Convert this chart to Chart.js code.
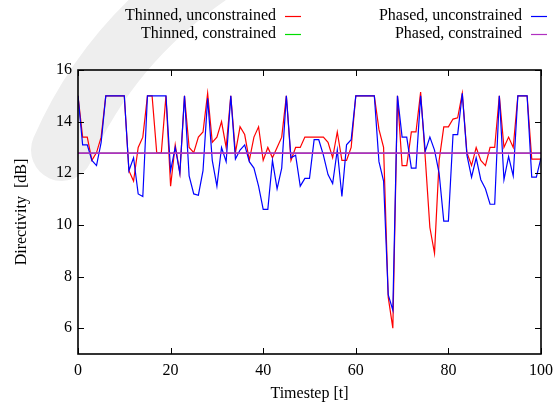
<!DOCTYPE html>
<html>
<head>
<meta charset="utf-8">
<script src="https://cdn.jsdelivr.net/npm/chart.js@4.4.1/dist/chart.umd.min.js"></script>
<style>
html, body { margin: 0; padding: 0; background: #fff; }
#wrap { position: relative; width: 560px; height: 405px; }
</style>
</head>
<body>
<div id="wrap"><canvas id="chart" width="560" height="405"></canvas></div>
<script>
// directivity [dB] per timestep
var thinnedUnconstrained = [
    15, 13.4, 13.4, 12.5, 12.8, 13.4, 15, 15, 15, 15,
    15, 12.1, 11.7, 13.0, 13.4, 15, 15, 12.8, 12.8, 15,
    11.5, 13.1, 12.0, 15, 13.0, 12.8, 13.4, 13.6, 15.1, 13.2,
    13.4, 14.0, 13.0, 15.0, 12.8, 13.8, 13.5, 12.5, 13.4, 13.8,
    12.5, 13.0, 12.6, 13.0, 13.4, 15.0, 12.5, 13.0, 13.0, 13.4,
    13.4, 13.4, 13.4, 13.4, 13.2, 12.6, 13.6, 12.5, 12.5, 13.0,
    15, 15, 15, 15, 15, 13.7, 13.0, 7.2, 6.0, 15.0,
    12.3, 12.3, 13.6, 13.6, 15.15, 12.6, 9.9, 8.9, 12.5, 13.8,
    13.8, 14.1, 14.15, 15.1, 12.8, 12.3, 13.0, 12.5, 12.3, 13.0,
    13.0, 15.0, 13.0, 13.4, 13.0, 15, 15, 15, 12.55, 12.55,
    12.55
];
var phasedUnconstrained = [
    15, 13.1, 13.1, 12.5, 12.3, 13.2, 15, 15, 15, 15,
    15, 12.1, 12.6, 11.2, 11.1, 15, 15, 15, 15, 15,
    12.1, 13.0, 12.0, 15, 11.9, 11.2, 11.15, 12.1, 14.9, 12.5,
    11.5, 13.0, 12.45, 15.0, 12.55, 12.9, 13.1, 12.45, 12.2, 11.5,
    10.6, 10.6, 12.5, 11.4, 12.2, 15.0, 12.6, 12.7, 11.5, 11.8,
    11.8, 13.3, 13.3, 12.7, 11.95, 11.6, 12.9, 11.1, 13.1, 13.3,
    15, 15, 15, 15, 15, 12.45, 11.7, 7.3, 6.7, 15.0,
    13.4, 13.4, 12.2, 12.2, 15.0, 12.85, 13.4, 12.9, 12.0, 10.15,
    10.15, 13.5, 13.5, 15.1, 12.7, 11.85, 12.6, 11.75, 11.4, 10.8,
    10.8, 15.0, 11.75, 12.65, 11.9, 15, 15, 15, 11.85, 11.85,
    12.6
];
var thinnedConstrained = 12.78;
var phasedConstrained = 12.78;

var xTicks = [0, 20, 40, 60, 80, 100];
var yTicks = [6, 8, 10, 12, 14, 16];

var timesteps = [];
for (var t = 0; t < thinnedUnconstrained.length; t++) timesteps.push(t);

var serif = '"Liberation Serif", "DejaVu Serif", serif';

function flatLine(level) {
    return [{ x: timesteps[0], y: level }, { x: timesteps[timesteps.length - 1], y: level }];
}

// faint grey swoosh behind the plot (part of the source image)
var swooshPlugin = {
    id: 'swoosh',
    beforeDraw: function (chart) {
        var ctx = chart.ctx;
        ctx.save();
        ctx.strokeStyle = '#eeeeee';
        ctx.lineWidth = 62;
        ctx.lineCap = 'round';
        ctx.beginPath();
        ctx.moveTo(215, -30);
        ctx.quadraticCurveTo(110, 40, 62, 150);
        ctx.stroke();
        ctx.restore();
    }
};

// gnuplot style key: text right aligned, sample line to its right
var keyPlugin = {
    id: 'gnuKey',
    afterDraw: function (chart) {
        var ctx = chart.ctx;
        var slots = [
            { ds: 0, textRight: 276, y: 16 },
            { ds: 1, textRight: 276, y: 34 },
            { ds: 2, textRight: 522, y: 16 },
            { ds: 3, textRight: 522, y: 34 }
        ];
        ctx.save();
        ctx.font = '16px ' + serif;
        ctx.textAlign = 'right';
        ctx.textBaseline = 'middle';
        slots.forEach(function (s) {
            var ds = chart.data.datasets[s.ds];
            ctx.fillStyle = '#000';
            ctx.fillText(ds.label, s.textRight, s.y);
            ctx.strokeStyle = ds.borderColor;
            ctx.lineWidth = 1.2;
            ctx.beginPath();
            ctx.moveTo(s.textRight + 9, s.y + 0.5);
            ctx.lineTo(s.textRight + 25, s.y + 0.5);
            ctx.stroke();
        });
        ctx.restore();
    }
};

// border box with inward ticks on all four sides
var framePlugin = {
    id: 'frame',
    afterDatasetsDraw: function (chart) {
        var ctx = chart.ctx, a = chart.chartArea;
        var xs = chart.scales.x, ys = chart.scales.y;
        ctx.save();
        ctx.strokeStyle = '#000';
        ctx.lineWidth = 1;
        ctx.beginPath();
        xs.ticks.forEach(function (tk) {
            var px = Math.round(xs.getPixelForValue(tk.value)) + 0.5;
            ctx.moveTo(px, a.bottom); ctx.lineTo(px, a.bottom - 6);
            ctx.moveTo(px, a.top); ctx.lineTo(px, a.top + 6);
        });
        ys.ticks.forEach(function (tk) {
            var py = Math.round(ys.getPixelForValue(tk.value)) + 0.5;
            ctx.moveTo(a.left, py); ctx.lineTo(a.left + 6, py);
            ctx.moveTo(a.right, py); ctx.lineTo(a.right - 6, py);
        });
        ctx.stroke();
        ctx.lineWidth = 1.6;
        ctx.strokeRect(a.left, a.top, a.right - a.left, a.bottom - a.top);
        ctx.restore();
    }
};

new Chart(document.getElementById('chart'), {
    type: 'line',
    data: {
        labels: timesteps,
        datasets: [
            { label: 'Thinned, unconstrained', data: thinnedUnconstrained, borderColor: '#ff0000', order: 4 },
            { label: 'Thinned, constrained', data: flatLine(thinnedConstrained), borderColor: '#00dd00', borderWidth: 1, order: 3 },
            { label: 'Phased, unconstrained', data: phasedUnconstrained, borderColor: '#0000ff', order: 2 },
            { label: 'Phased, constrained', data: flatLine(phasedConstrained), borderColor: '#b030c0', borderWidth: 1.6, order: 1 }
        ]
    },
    options: {
        responsive: false, animation: false,
        layout: { padding: { top: 70, right: 18, left: 0, bottom: 0 } },
        elements: {
            point: { radius: 0 },
            line: { borderWidth: 1.2, tension: 0, fill: false }
        },
        plugins: { legend: { display: false }, tooltip: { enabled: false } },
        scales: {
            x: {
                type: 'linear', min: 0, max: 100,
                afterBuildTicks: function (s) { s.ticks = xTicks.map(function (v) { return { value: v }; }); },
                afterFit: function (s) { s.height = 51; },
                grid: { display: false, drawTicks: false },
                border: { display: false },
                ticks: { color: '#000', font: { family: serif, size: 16 }, padding: 7, maxRotation: 0 },
                title: { display: true, text: 'Timestep [t]', color: '#000', font: { family: serif, size: 16 }, padding: { top: 0, bottom: 2 } }
            },
            y: {
                type: 'linear', min: 5, max: 16,
                afterBuildTicks: function (s) { s.ticks = yTicks.map(function (v) { return { value: v }; }); },
                afterFit: function (s) { s.width = 78; },
                grid: { display: false, drawTicks: false },
                border: { display: false },
                ticks: { color: '#000', font: { family: serif, size: 16 }, padding: 6 },
                title: { display: true, text: 'Directivity  [dB]', color: '#000', font: { family: serif, size: 16 }, padding: { top: 12, bottom: 0 } }
            }
        }
    },
    plugins: [swooshPlugin, keyPlugin, framePlugin]
});
</script>
</body>
</html>
